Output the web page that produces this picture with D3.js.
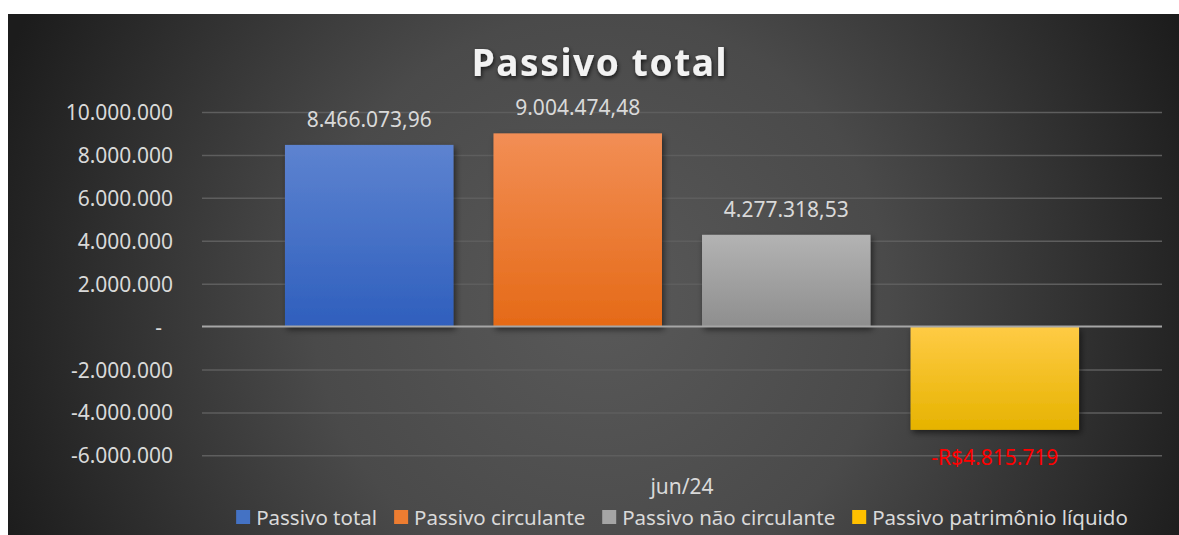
<!DOCTYPE html>
<html>
<head>
<meta charset="utf-8">
<script src="https://cdn.jsdelivr.net/npm/d3@7"></script>
<style>
  body { margin: 0; background: #fff; }
  svg { display: block; font-family: "Noto Sans", "Open Sans", sans-serif; }
</style>
</head>
<body>
<svg id="chart" width="1179" height="535"></svg>
<script>
const category = "jun/24";
const seriesNames = ["Passivo total", "Passivo circulante", "Passivo não circulante", "Passivo patrimônio líquido"];
const seriesValues = [8466073.96, 9004474.48, 4277318.53, -4815719];
const valueLabels = ["8.466.073,96", "9.004.474,48", "4.277.318,53", "-R$4.815.719"];
const yTicks = [-6000000, -4000000, -2000000, 0, 2000000, 4000000, 6000000, 8000000, 10000000];
const barColors = [
  ["#5d83d0", "#2f5fbd"],
  ["#f28e55", "#e56a17"],
  ["#b3b3b3", "#8e8e8e"],
  ["#ffcb45", "#e6b300"]
];
const legendColors = ["#4472c4", "#ed7d31", "#a5a5a5", "#ffc000"];

const svg = d3.select("#chart");
const width = +svg.attr("width");
const height = +svg.attr("height");
const margin = { top: 112, right: 17, bottom: 80, left: 202 };
const chartWidth = width - margin.left - margin.right;

const defs = svg.append("defs");

// background radial gradient
const bg = defs.append("radialGradient")
  .attr("id", "bg")
  .attr("gradientUnits", "userSpaceOnUse")
  .attr("cx", 600).attr("cy", 300).attr("r", 640);
bg.append("stop").attr("offset", "0%").attr("stop-color", "#595959");
bg.append("stop").attr("offset", "45%").attr("stop-color", "#4a4a4a");
bg.append("stop").attr("offset", "100%").attr("stop-color", "#1c1c1c");

barColors.forEach((c, i) => {
  const g = defs.append("linearGradient")
    .attr("id", "bar" + i)
    .attr("x1", 0).attr("y1", 0).attr("x2", 0).attr("y2", 1);
  g.append("stop").attr("offset", "0%").attr("stop-color", c[0]);
  g.append("stop").attr("offset", "100%").attr("stop-color", c[1]);
});

const shadow = defs.append("filter").attr("id", "shadow")
  .attr("x", "-10%").attr("y", "-10%").attr("width", "130%").attr("height", "130%");
shadow.append("feDropShadow")
  .attr("dx", 2).attr("dy", 3).attr("stdDeviation", 3)
  .attr("flood-color", "#000").attr("flood-opacity", 0.55);

const titleShadow = defs.append("filter").attr("id", "tshadow")
  .attr("x", "-10%").attr("y", "-20%").attr("width", "130%").attr("height", "150%");
titleShadow.append("feDropShadow")
  .attr("dx", 1).attr("dy", 2).attr("stdDeviation", 2)
  .attr("flood-color", "#000").attr("flood-opacity", 0.7);

svg.append("rect")
  .attr("x", 8).attr("y", 14)
  .attr("width", width - 8).attr("height", height - 14)
  .attr("fill", "url(#bg)");

// Scales
const yScale = d3.scaleLinear()
  .domain([-6000000, 10000000])
  .range([455.3, 112]);

const x0 = d3.scaleBand()
  .domain([category])
  .range([margin.left, margin.left + chartWidth])
  .paddingOuter(0.1045);

const x1 = d3.scaleBand()
  .domain(seriesNames)
  .range([0, x0.bandwidth()])
  .paddingInner(0.192);

// Gridlines
const yGrid = d3.axisLeft(yScale).tickValues(yTicks).tickSize(-chartWidth).tickFormat("");
svg.append("g")
  .attr("transform", `translate(${margin.left},0)`)
  .call(yGrid)
  .call(g => g.select(".domain").remove())
  .call(g => g.selectAll("line")
    .attr("stroke-width", 1.5)
    .attr("stroke", d => d === 0 ? "none" : "#5e5e5e"));

// Y axis labels
const fmt = d3.formatLocale({ decimal: ",", thousands: ".", grouping: [3], currency: ["R$", ""], minus: "-" }).format(",.0f");
const yAxis = d3.axisLeft(yScale).tickValues(yTicks).tickSize(0).tickPadding(29)
  .tickFormat(d => d === 0 ? "-" : fmt(d));
svg.append("g")
  .attr("transform", `translate(${margin.left},0)`)
  .call(yAxis)
  .call(g => g.select(".domain").remove())
  .call(g => g.selectAll("text")
    .attr("fill", "#d9d9d9")
    .style("font-size", "21px")
    .style("font-family", "'Noto Sans', sans-serif")
    .attr("dx", d => d === 0 ? -11 : 0)
    .attr("dy", "0.36em"));

// Bars
const barG = svg.append("g").attr("transform", `translate(${x0(category)},0)`);
barG.selectAll("rect")
  .data(seriesValues)
  .join("rect")
  .attr("x", (d, i) => x1(seriesNames[i]))
  .attr("width", x1.bandwidth())
  .attr("y", d => yScale(Math.max(0, d)))
  .attr("height", d => Math.abs(yScale(d) - yScale(0)))
  .attr("fill", (d, i) => `url(#bar${i})`)
  .attr("filter", "url(#shadow)");

// Zero line
svg.append("line")
  .attr("x1", margin.left).attr("x2", margin.left + chartWidth)
  .attr("y1", yScale(0)).attr("y2", yScale(0))
  .attr("stroke", "#a6a6a6").attr("stroke-width", 2);

// Data labels
barG.selectAll("text")
  .data(seriesValues)
  .join("text")
  .attr("x", (d, i) => x1(seriesNames[i]) + x1.bandwidth() / 2)
  .attr("y", d => d >= 0 ? yScale(d) - 18 : yScale(d) + 35)
  .attr("text-anchor", "middle")
  .attr("fill", d => d >= 0 ? "#d9d9d9" : "#ff0000")
  .style("font-size", "21px")
  .text((d, i) => valueLabels[i]);

// Category label
svg.append("text")
  .attr("x", x0(category) + x0.bandwidth() / 2)
  .attr("y", 494)
  .attr("text-anchor", "middle")
  .attr("fill", "#d9d9d9")
  .style("font-size", "21px")
  .text(category);

// Title
svg.append("text")
  .attr("x", 600)
  .attr("y", 76)
  .attr("text-anchor", "middle")
  .attr("fill", "#f2f2f2")
  .style("font-size", "37px")
  .style("font-weight", "bold")
  .style("letter-spacing", "1.6px")
  .attr("filter", "url(#tshadow)")
  .text("Passivo total");

// Legend
const legend = svg.append("g");
const items = legend.selectAll("g")
  .data(seriesNames)
  .join("g");
items.append("rect")
  .attr("width", 14).attr("height", 14)
  .attr("y", 510)
  .attr("fill", (d, i) => legendColors[i]);
items.append("text")
  .attr("x", 20)
  .attr("y", 524.5)
  .attr("fill", "#d9d9d9")
  .style("font-size", "20.5px")
  .text(d => d);
let lx = 0;
const widths = [];
items.each(function () {
  widths.push(20 + d3.select(this).select("text").node().getComputedTextLength());
});
const gap = 17;
const total = d3.sum(widths) + gap * (widths.length - 1);
lx = 682 - total / 2;
items.attr("transform", (d, i) => {
  const t = `translate(${lx},0)`;
  lx += widths[i] + gap;
  return t;
});
</script>
</body>
</html>
